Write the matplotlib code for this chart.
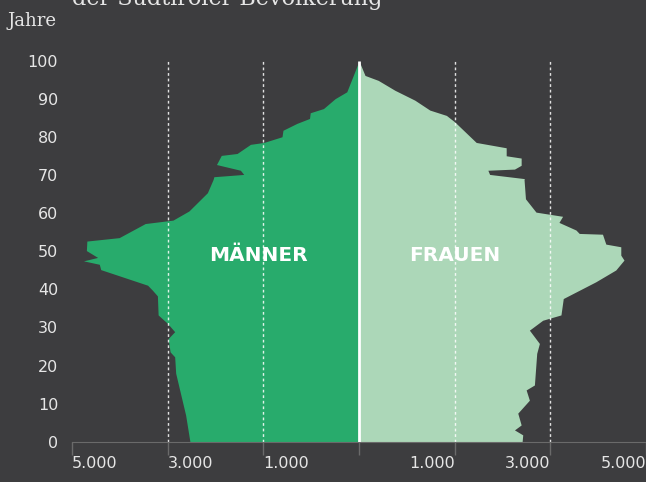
import numpy as np
import matplotlib
matplotlib.use('Agg')
import matplotlib.pyplot as plt

# Bevoelkerungspyramide - Eckpunkte (Achseneinheiten)
men_age = [0, 7, 18, 22.3, 23.6, 27.1, 28.9, 31.1, 33.3, 38.3, 39.8, 41.1, 45.2,
           46.6, 47.5, 48.4, 50.2, 52.7, 53.6, 57.3, 58.2, 60.6, 65.4, 68.9,
           69.6, 70.2, 71.3, 72.8, 75.2, 75.7, 78.1, 78.6, 80.1, 81.8, 83.6,
           84.9, 86.4, 87.5, 90.1, 91.9, 100]
men_val = [3535, 3625, 3833, 3854, 3950, 3990, 3854, 4006, 4200, 4215, 4320, 4420, 5400,
           5430, 5760, 5465, 5700, 5690, 5015, 4470, 3890, 3556, 3170, 3050,
           3035, 2410, 2480, 2980, 2880, 2550, 2270, 1990, 1610, 1590, 1300,
           1035, 1020, 743, 500, 256, 0]

women_age = [0, 1.8, 3.1, 4.4, 7.5, 10.9, 13.6, 14.9, 23.2, 25.8, 29.3, 31.9, 33.3,
             37.6, 42, 45.1, 47.7, 49, 51.2, 51.9, 54.5, 54.7, 55.6, 57.6, 59.2,
             60.3, 63.8, 68.9, 69.1, 70.2, 71.3, 71.6, 72.6, 74.5, 75.1, 77.2,
             78.6, 84, 85.7, 87.1, 89.7, 92.3, 94.9, 96.2, 100]
women_val = [3410, 3423, 3250, 3390, 3319, 3562, 3494, 3667, 3715, 3771, 3562, 3840, 4222,
             4270, 4950, 5368, 5540, 5473, 5473, 5160, 5090, 4604, 4535, 4180, 4256,
             3700, 3480, 3450, 3458, 2730, 2694, 3250, 3390, 3390, 3077, 3077,
             2450, 2000, 1827, 1480, 1167, 750, 402, 125, 0]

xtick_pos = [-6000, -4000, -2000, 0, 2000, 4000, 6000]
xtick_lab = ['5.000', '3.000', '1.000', '', '1.000', '3.000', '5.000']
yticks = list(range(0, 101, 10))

bg = '#3d3d3f'
c_men = '#28ab6c'
c_women = '#acd7b8'
c_text = '#e6e6e6'

f = plt.figure(figsize=[6.46, 4.82], dpi=100, facecolor=bg)
ax = f.add_axes([0.1115, 0.0836, 0.8885, 0.8294])
ax.set_facecolor(bg)

ax.fill_betweenx(men_age, -np.array(men_val), 0, color=c_men, lw=0, zorder=1)
ax.fill_betweenx(women_age, 0, np.array(women_val), color=c_women, lw=0, zorder=1)

# gepunktete Hilfslinien
ax.vlines([-4000, -2000, 2000, 4000], 0, 100, colors='white', alpha=0.85,
          linestyles=(0, (2, 2)), linewidth=1, zorder=2)
ax.vlines([0], 0, 100, colors='white', linewidth=2, zorder=3)

ax.text(-2100, 49, 'MÄNNER', color='white', fontsize=14.5, fontweight='bold',
        ha='center', va='center', zorder=4)
ax.text(2000, 49, 'FRAUEN', color='white', fontsize=14.5, fontweight='bold',
        ha='center', va='center', zorder=4)

ax.set_xlim([-6000, 6000])
ax.set_ylim([0, 105])
ax.set_xticks(xtick_pos)
ax.set_xticklabels(xtick_lab)
ax.set_yticks(yticks)
for sp in ['top', 'right', 'left']:
    ax.spines[sp].set_visible(False)
ax.spines['bottom'].set_color('#6a6a6a')
ax.tick_params(axis='x', colors='#6a6a6a', length=9.5, width=1, pad=1,
               labelcolor=c_text, labelsize=11.5)
ax.tick_params(axis='y', length=0, pad=10, labelcolor=c_text, labelsize=11.5)
for lab, p in zip(ax.get_xticklabels(), xtick_pos):
    lab.set_horizontalalignment('left' if p < 0 else 'right')

f.text(8/646, 0.946, 'Jahre', color=c_text, fontsize=13, family='DejaVu Serif',
       ha='left', va='baseline')
f.text(72/646, 0.9896, 'der Südtiroler Bevölkerung', color=c_text, fontsize=16,
       family='DejaVu Serif', ha='left', va='baseline')

f.savefig('out.png', dpi=100, facecolor=bg)
